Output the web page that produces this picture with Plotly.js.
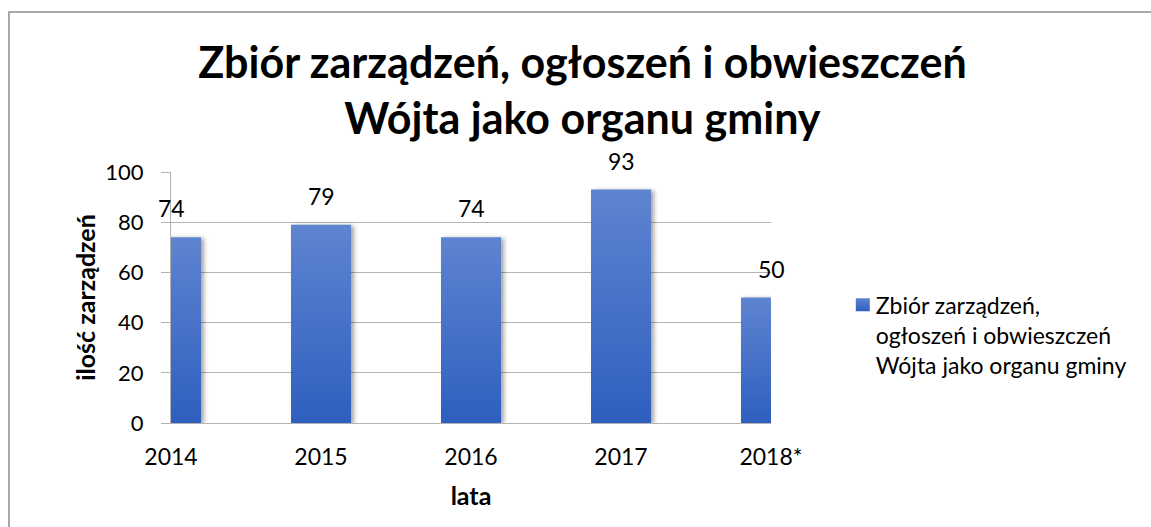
<!DOCTYPE html>
<html>
<head>
<meta charset="utf-8">
<script src="https://cdn.plot.ly/plotly-3.0.1.min.js"></script>
<style>
html,body{margin:0;padding:0;background:#fff;overflow:hidden;}
#wrap{position:relative;width:1151px;height:527px;}
#chart{width:1151px;height:527px;}
#frame{position:absolute;left:8px;top:11px;width:1300px;height:700px;border-left:2px solid #a8a8a8;border-top:2px solid #a8a8a8;pointer-events:none;}
</style>
</head>
<body>
<div id="wrap"><div id="chart"></div><div id="frame"></div></div>
<script>
var years = ['2014', '2015', '2016', '2017', '2018*'];
var values = [74, 79, 74, 93, 50];
var seriesName = 'Zbiór zarządzeń,<br>ogłoszeń i obwieszczeń<br>Wójta jako organu gminy';
var chartTitle = 'Zbiór zarządzeń, ogłoszeń i obwieszczeń<br>Wójta jako organu gminy';
var yTitle = 'ilość zarządzeń';
var xTitle = 'lata';

var FONT = 'Lato, "Open Sans", sans-serif';
var GRID = '#b3b3b3';

var data = [{
  type: 'bar',
  x: years,
  y: values,
  name: seriesName,
  width: 0.4,
  marker: {color: '#4673cb', line: {width: 0}},
  showlegend: true,
  hoverinfo: 'none'
}];

var annotations = years.map(function (yr, i) {
  return {
    x: i, y: values[i], xref: 'x', yref: 'y',
    text: String(values[i]), showarrow: false,
    yanchor: 'bottom', xanchor: 'center', yshift: 13,
    font: {family: FONT, size: 23, color: '#000'}
  };
});

var layout = {
  width: 1151, height: 527,
  margin: {l: 171, r: 380, t: 172, b: 104, pad: 0},
  paper_bgcolor: '#fff', plot_bgcolor: '#fff',
  font: {family: FONT, color: '#000'},
  title: {
    text: chartTitle,
    font: {family: FONT, size: 43, weight: 'bold', color: '#000'},
    x: 0.506, xref: 'container', xanchor: 'center',
    y: 1 - 78 / 527, yref: 'container', yanchor: 'top'
  },
  xaxis: {
    type: 'category', range: [0, 4], autorange: false,
    showline: true, linecolor: GRID, linewidth: 1,
    showgrid: false, ticks: '', zeroline: false,
    tickfont: {family: FONT, size: 23, color: '#000'},
    ticklabelstandoff: 13,
    automargin: false,
    title: {text: xTitle, font: {family: FONT, size: 25, weight: 'bold', color: '#000'}, standoff: 18}
  },
  yaxis: {
    range: [0, 100], autorange: false, dtick: 20,
    showgrid: true, gridcolor: GRID, gridwidth: 1,
    showline: true, linecolor: GRID, linewidth: 1,
    ticks: 'outside', ticklen: 9, tickcolor: GRID, tickwidth: 1,
    zeroline: false,
    tickfont: {family: FONT, size: 22, color: '#000'},
    ticklabelstandoff: 13,
    automargin: false,
    title: {text: yTitle, font: {family: FONT, size: 25, weight: 'bold', color: '#000'}, standoff: 2}
  },
  legend: {
    x: 1.108, xanchor: 'left', y: 0.555, yanchor: 'top',
    font: {family: FONT, size: 23, color: '#000'},
    valign: 'top', bgcolor: 'rgba(0,0,0,0)', itemclick: false
  },
  annotations: annotations,
  bargap: 0.6
};

Plotly.newPlot('chart', data, layout, {staticPlot: true, displayModeBar: false}).then(function (gd) {
  var ns = 'http://www.w3.org/2000/svg';
  var svg = gd.querySelector('svg.main-svg');
  var defs = document.createElementNS(ns, 'defs');
  var grad = document.createElementNS(ns, 'linearGradient');
  grad.setAttribute('id', 'barGrad');
  grad.setAttribute('x1', '0'); grad.setAttribute('y1', '0');
  grad.setAttribute('x2', '0'); grad.setAttribute('y2', '1');
  [['0%', '#5f84d0'], ['100%', '#2e5fbf']].forEach(function (s) {
    var st = document.createElementNS(ns, 'stop');
    st.setAttribute('offset', s[0]); st.setAttribute('stop-color', s[1]);
    grad.appendChild(st);
  });
  defs.appendChild(grad);
  svg.insertBefore(defs, svg.firstChild);
  gd.querySelectorAll('.barlayer .point path').forEach(function (p) {
    p.style.fill = 'url(#barGrad)';
    p.style.filter = 'drop-shadow(3px 1px 2px rgba(0,0,0,0.35))';
  });
  gd.querySelectorAll('.legendpoints path').forEach(function (p) {
    p.setAttribute('d', 'M0,6H14V-7H0Z');
    p.style.fill = 'url(#barGrad)';
  });
});
</script>
</body>
</html>
